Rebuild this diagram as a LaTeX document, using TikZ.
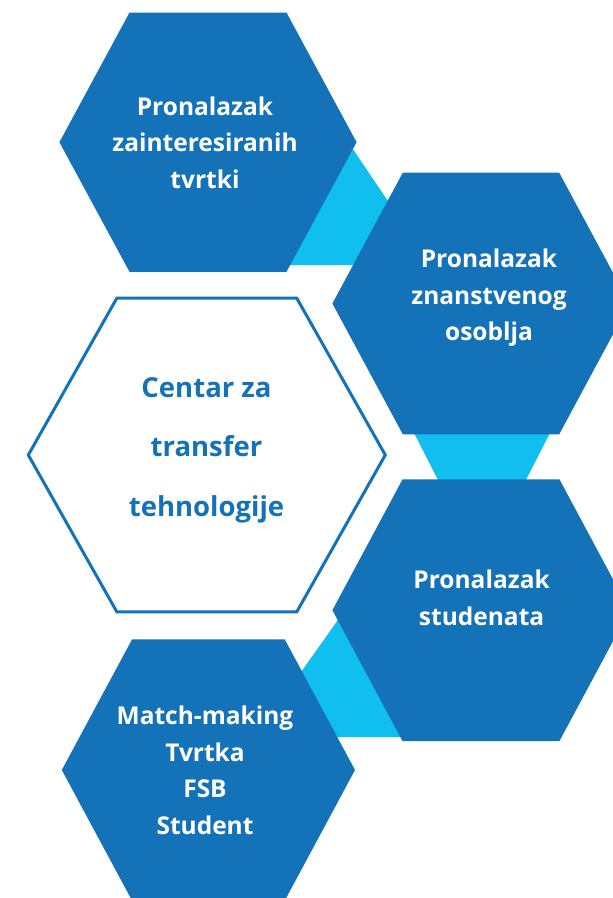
\documentclass[tikz,border=0pt]{standalone}
\usepackage{fontspec}
\setmainfont{Open Sans}
\definecolor{hexblue}{RGB}{20,114,185}
\definecolor{linkcyan}{RGB}{16,190,240}
\newcommand{\hexagonpath}[5]{(#1-#5,#2-#4) -- (#1+#5,#2-#4) -- (#1+#3,#2) -- (#1+#5,#2+#4) -- (#1-#5,#2+#4) -- (#1-#3,#2) -- cycle}
\begin{document}
\begin{tikzpicture}[x=1pt,y=-1pt,
  hexfill/.style={fill=hexblue},
  hexline/.style={draw=hexblue,line width=3pt,fill=white},
  linkfill/.style={fill=linkcyan},
  hextext/.style={text=white,align=center,anchor=base,inner sep=0pt,
    font=\fontsize{24.5}{36.5}\selectfont\bfseries},
  centertext/.style={text=hexblue,align=center,anchor=base,inner sep=0pt,
    font=\fontsize{27.5}{59.5}\selectfont\bfseries}]
\useasboundingbox (0,0) rectangle (613,898);
\begin{scope}
\clip (0,0) rectangle (613,898);
% cyan link triangles (behind the hexagons)
\fill[linkfill] (340,130) -- (431,265) -- (270,265) -- cycle;
\fill[linkfill] (387,380) -- (577,380) -- (482,566) -- cycle;
\fill[linkfill] (362,586) -- (420,737) -- (255,737) -- cycle;
% hexagons
\fill[hexfill] \hexagonpath{208}{142.2}{148.6}{129.6}{78.5};
\fill[hexfill] \hexagonpath{481}{303.5}{148.6}{130.8}{78.2};
\draw[hexline] \hexagonpath{206.8}{455}{178.5}{156.8}{90};
\fill[hexfill] \hexagonpath{481}{610.2}{148.6}{130.8}{78.5};
\fill[hexfill] \hexagonpath{208.4}{770}{146.6}{130.7}{76.3};
\end{scope}
% texts (base anchor = baseline of the last line)
\node[hextext] (t1) at (205,188) {Pronalazak\\zainteresiranih\\tvrtki};
\node[hextext] (t2) at (489,340.7) {Pronalazak\\znanstvenog\\osoblja};
\node[centertext] (t3) at (206.5,516) {Centar za\\transfer\\tehnologije};
\node[hextext] (t4) at (481.6,625) {Pronalazak\\studenata};
\node[hextext] (t5) at (205,834.3) {Match-making\\Tvrtka\\FSB\\Student};
\end{tikzpicture}
\end{document}
